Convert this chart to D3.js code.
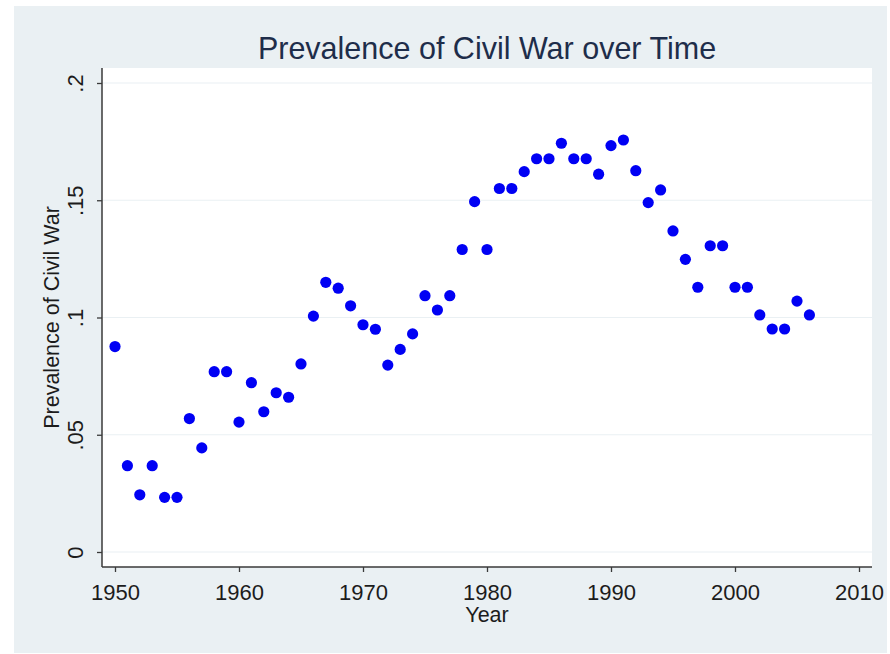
<!DOCTYPE html>
<html>
<head>
<meta charset="utf-8">
<script src="https://cdnjs.cloudflare.com/ajax/libs/d3/7.8.5/d3.min.js"></script>
<style>
  body { margin: 0; background: #fff; }
  svg text { font-family: "Liberation Sans", Arial, sans-serif; }
</style>
</head>
<body>
<div id="chart"></div>
<script>
// data
var years = [1950, 1951, 1952, 1953, 1954, 1955, 1956, 1957, 1958, 1959,
  1960, 1961, 1962, 1963, 1964, 1965, 1966, 1967, 1968, 1969,
  1970, 1971, 1972, 1973, 1974, 1975, 1976, 1977, 1978, 1979,
  1980, 1981, 1982, 1983, 1984, 1985, 1986, 1987, 1988, 1989,
  1990, 1991, 1992, 1993, 1994, 1995, 1996, 1997, 1998, 1999,
  2000, 2001, 2002, 2003, 2004, 2005, 2006];
var prevalence = [0.0876, 0.0368, 0.0244, 0.0368, 0.0233, 0.0233, 0.0569, 0.0444, 0.0769, 0.0769,
  0.0554, 0.0722, 0.0598, 0.0679, 0.0660, 0.0802, 0.1006, 0.1150, 0.1125, 0.1050,
  0.0969, 0.0950, 0.0797, 0.0864, 0.0930, 0.1093, 0.1032, 0.1093, 0.1290, 0.1494,
  0.1290, 0.1550, 0.1550, 0.1622, 0.1677, 0.1677, 0.1743, 0.1677, 0.1677, 0.1611,
  0.1733, 0.1757, 0.1626, 0.1490, 0.1544, 0.1369, 0.1248, 0.1129, 0.1306, 0.1306,
  0.1129, 0.1129, 0.1011, 0.0951, 0.0951, 0.1070, 0.1011];
var xTicks = [1950, 1960, 1970, 1980, 1990, 2000, 2010];
var yTicks = [0, 0.05, 0.1, 0.15, 0.2];
var yTickLabels = ['0', '.05', '.1', '.15', '.2'];

var W = 890, H = 654;
var svg = d3.select('#chart').append('svg')
  .attr('width', W).attr('height', H);

// outer grey panel
svg.append('rect')
  .attr('x', 14).attr('y', 6)
  .attr('width', 873).attr('height', 647)
  .attr('fill', '#eaf0f3');

var plot = {left: 102, top: 68, right: 872, bottom: 567};

svg.append('rect')
  .attr('x', plot.left).attr('y', plot.top)
  .attr('width', plot.right - plot.left).attr('height', plot.bottom - plot.top)
  .attr('fill', '#ffffff');

var x = d3.scaleLinear().domain([1950, 2010]).range([115, 859]);
var y = d3.scaleLinear().domain([0, 0.2]).range([552, 83]);

// gridlines
svg.append('g').selectAll('line')
  .data(yTicks)
  .join('line')
  .attr('x1', plot.left).attr('x2', plot.right)
  .attr('y1', function(d) { return y(d); })
  .attr('y2', function(d) { return y(d); })
  .attr('stroke', '#eaf0f3')
  .attr('stroke-width', 1.2);

// y axis
var yAxis = svg.append('g')
  .attr('transform', 'translate(' + plot.left + ',0)')
  .call(d3.axisLeft(y).tickValues(yTicks).tickSize(5)
    .tickFormat(function(d, i) { return yTickLabels[i]; }));
yAxis.select('.domain').remove();
yAxis.append('line')
  .attr('x1', 0).attr('x2', 0)
  .attr('y1', plot.top).attr('y2', plot.bottom)
  .attr('stroke', '#3a3a3a').attr('stroke-width', 1.5);
yAxis.selectAll('.tick line').attr('stroke', '#3a3a3a').attr('stroke-width', 1.3);
yAxis.selectAll('.tick text')
  .attr('font-size', 22)
  .attr('fill', '#1c1c1c')
  .attr('x', null).attr('dy', null)
  .attr('text-anchor', 'middle')
  .attr('transform', 'translate(-19,0) rotate(-90)');

// x axis
var xAxis = svg.append('g')
  .attr('transform', 'translate(0,' + plot.bottom + ')')
  .call(d3.axisBottom(x).tickValues(xTicks).tickSize(5).tickPadding(12)
    .tickFormat(d3.format('d')));
xAxis.select('.domain').remove();
xAxis.append('line')
  .attr('x1', plot.left).attr('x2', plot.right)
  .attr('y1', 0).attr('y2', 0)
  .attr('stroke', '#3a3a3a').attr('stroke-width', 1.5);
xAxis.selectAll('.tick line').attr('stroke', '#3a3a3a').attr('stroke-width', 1.3);
xAxis.selectAll('.tick text')
  .attr('font-size', 22)
  .attr('fill', '#1c1c1c');

// points
svg.append('g').selectAll('circle')
  .data(years)
  .join('circle')
  .attr('cx', function(d) { return x(d); })
  .attr('cy', function(d, i) { return y(prevalence[i]); })
  .attr('r', 5.6)
  .attr('fill', '#0000f4');

// titles
svg.append('text')
  .attr('x', (plot.left + plot.right) / 2).attr('y', 59)
  .attr('text-anchor', 'middle')
  .attr('font-size', 30.5)
  .attr('fill', '#1e2d4a')
  .text('Prevalence of Civil War over Time');

svg.append('text')
  .attr('x', x(1980)).attr('y', 622)
  .attr('text-anchor', 'middle')
  .attr('font-size', 21.5)
  .attr('fill', '#1c1c1c')
  .text('Year');

svg.append('text')
  .attr('transform', 'translate(59,' + y(0.1) + ') rotate(-90)')
  .attr('text-anchor', 'middle')
  .attr('font-size', 21.5)
  .attr('fill', '#1c1c1c')
  .text('Prevalence of Civil War');
</script>
</body>
</html>
